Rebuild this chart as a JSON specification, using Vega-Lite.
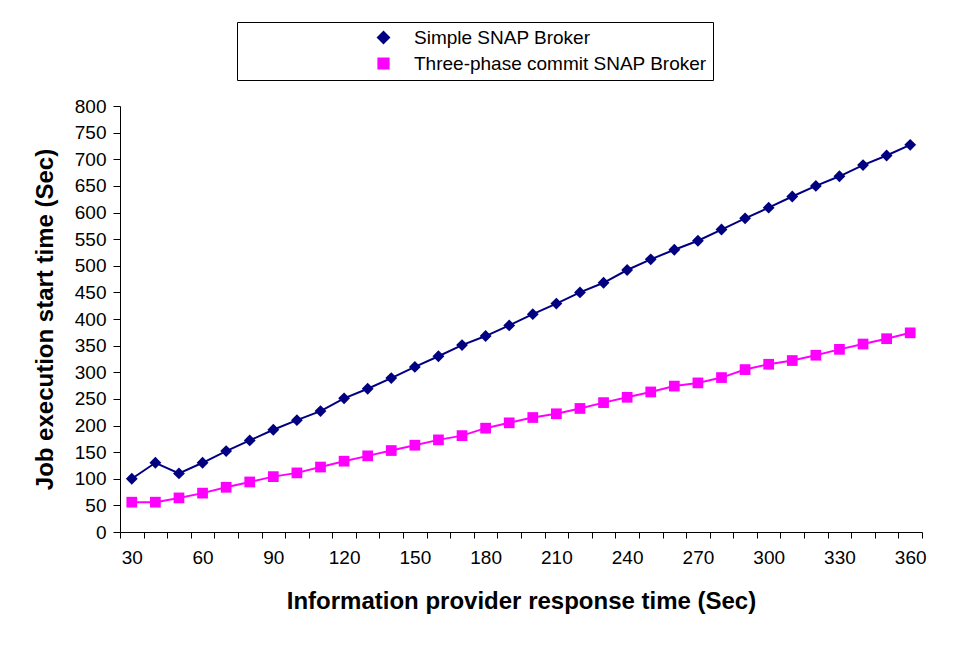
{
  "$schema": "https://vega.github.io/schema/vega-lite/v6.json",
  "width": 802,
  "height": 426,
  "autosize": {"type": "none"},
  "padding": {"left": 120, "top": 106, "right": 42, "bottom": 126},
  "background": "white",
  "config": {
    "font": "Liberation Sans",
    "view": {"stroke": null},
    "axis": {
      "grid": false,
      "domainColor": "#000000",
      "tickColor": "#000000",
      "labelColor": "#000000",
      "titleColor": "#000000",
      "labelFont": "Liberation Sans",
      "titleFont": "Liberation Sans",
      "titleFontWeight": "bold",
      "titleFontSize": 24
    }
  },
  "data": {
    "values": [
      {"t": 30, "series": "Simple SNAP Broker", "v": 100},
      {"t": 40, "series": "Simple SNAP Broker", "v": 130},
      {"t": 50, "series": "Simple SNAP Broker", "v": 110},
      {"t": 60, "series": "Simple SNAP Broker", "v": 130},
      {"t": 70, "series": "Simple SNAP Broker", "v": 152},
      {"t": 80, "series": "Simple SNAP Broker", "v": 172},
      {"t": 90, "series": "Simple SNAP Broker", "v": 192},
      {"t": 100, "series": "Simple SNAP Broker", "v": 210},
      {"t": 110, "series": "Simple SNAP Broker", "v": 227},
      {"t": 120, "series": "Simple SNAP Broker", "v": 251},
      {"t": 130, "series": "Simple SNAP Broker", "v": 269},
      {"t": 140, "series": "Simple SNAP Broker", "v": 289},
      {"t": 150, "series": "Simple SNAP Broker", "v": 310},
      {"t": 160, "series": "Simple SNAP Broker", "v": 330},
      {"t": 170, "series": "Simple SNAP Broker", "v": 351},
      {"t": 180, "series": "Simple SNAP Broker", "v": 368},
      {"t": 190, "series": "Simple SNAP Broker", "v": 388},
      {"t": 200, "series": "Simple SNAP Broker", "v": 409},
      {"t": 210, "series": "Simple SNAP Broker", "v": 429},
      {"t": 220, "series": "Simple SNAP Broker", "v": 450},
      {"t": 230, "series": "Simple SNAP Broker", "v": 468},
      {"t": 240, "series": "Simple SNAP Broker", "v": 492},
      {"t": 250, "series": "Simple SNAP Broker", "v": 512},
      {"t": 260, "series": "Simple SNAP Broker", "v": 530},
      {"t": 270, "series": "Simple SNAP Broker", "v": 547},
      {"t": 280, "series": "Simple SNAP Broker", "v": 568},
      {"t": 290, "series": "Simple SNAP Broker", "v": 589},
      {"t": 300, "series": "Simple SNAP Broker", "v": 609},
      {"t": 310, "series": "Simple SNAP Broker", "v": 630},
      {"t": 320, "series": "Simple SNAP Broker", "v": 650},
      {"t": 330, "series": "Simple SNAP Broker", "v": 668},
      {"t": 340, "series": "Simple SNAP Broker", "v": 689},
      {"t": 350, "series": "Simple SNAP Broker", "v": 707},
      {"t": 360, "series": "Simple SNAP Broker", "v": 727},
      {"t": 30, "series": "Three-phase commit SNAP Broker", "v": 56},
      {"t": 40, "series": "Three-phase commit SNAP Broker", "v": 56},
      {"t": 50, "series": "Three-phase commit SNAP Broker", "v": 64},
      {"t": 60, "series": "Three-phase commit SNAP Broker", "v": 73},
      {"t": 70, "series": "Three-phase commit SNAP Broker", "v": 84},
      {"t": 80, "series": "Three-phase commit SNAP Broker", "v": 94},
      {"t": 90, "series": "Three-phase commit SNAP Broker", "v": 104},
      {"t": 100, "series": "Three-phase commit SNAP Broker", "v": 111},
      {"t": 110, "series": "Three-phase commit SNAP Broker", "v": 122},
      {"t": 120, "series": "Three-phase commit SNAP Broker", "v": 133},
      {"t": 130, "series": "Three-phase commit SNAP Broker", "v": 143},
      {"t": 140, "series": "Three-phase commit SNAP Broker", "v": 153},
      {"t": 150, "series": "Three-phase commit SNAP Broker", "v": 163},
      {"t": 160, "series": "Three-phase commit SNAP Broker", "v": 173},
      {"t": 170, "series": "Three-phase commit SNAP Broker", "v": 181},
      {"t": 180, "series": "Three-phase commit SNAP Broker", "v": 195},
      {"t": 190, "series": "Three-phase commit SNAP Broker", "v": 205},
      {"t": 200, "series": "Three-phase commit SNAP Broker", "v": 215},
      {"t": 210, "series": "Three-phase commit SNAP Broker", "v": 222},
      {"t": 220, "series": "Three-phase commit SNAP Broker", "v": 232},
      {"t": 230, "series": "Three-phase commit SNAP Broker", "v": 243},
      {"t": 240, "series": "Three-phase commit SNAP Broker", "v": 253},
      {"t": 250, "series": "Three-phase commit SNAP Broker", "v": 263},
      {"t": 260, "series": "Three-phase commit SNAP Broker", "v": 274},
      {"t": 270, "series": "Three-phase commit SNAP Broker", "v": 280},
      {"t": 280, "series": "Three-phase commit SNAP Broker", "v": 290},
      {"t": 290, "series": "Three-phase commit SNAP Broker", "v": 305},
      {"t": 300, "series": "Three-phase commit SNAP Broker", "v": 315},
      {"t": 310, "series": "Three-phase commit SNAP Broker", "v": 322},
      {"t": 320, "series": "Three-phase commit SNAP Broker", "v": 332},
      {"t": 330, "series": "Three-phase commit SNAP Broker", "v": 343},
      {"t": 340, "series": "Three-phase commit SNAP Broker", "v": 353},
      {"t": 350, "series": "Three-phase commit SNAP Broker", "v": 363},
      {"t": 360, "series": "Three-phase commit SNAP Broker", "v": 374}
    ]
  },
  "encoding": {
    "x": {
      "field": "t",
      "type": "ordinal",
      "scale": {"type": "band", "paddingInner": 0, "paddingOuter": 0},
      "axis": {
        "title": "Information provider response time (Sec)",
        "labelAngle": 0,
        "labelFontSize": 19,
        "labelPadding": 10,
        "tickBand": "extent",
        "tickSize": 6,
        "labelExpr": "datum.value % 30 === 0 ? datum.label : ''",
        "titlePadding": 22
      }
    },
    "y": {
      "field": "v",
      "type": "quantitative",
      "scale": {"domain": [0, 800], "nice": false},
      "axis": {
        "title": "Job execution start time (Sec)",
        "values": [0, 50, 100, 150, 200, 250, 300, 350, 400, 450, 500, 550, 600, 650, 700, 750, 800],
        "labelFontSize": 19,
        "labelPadding": 7,
        "tickSize": 7,
        "titlePadding": 17
      }
    },
    "color": {
      "field": "series",
      "type": "nominal",
      "scale": {
        "domain": ["Simple SNAP Broker", "Three-phase commit SNAP Broker"],
        "range": ["#000080", "#FF00FF"]
      },
      "legend": {
        "title": null,
        "orient": "none",
        "legendX": 117,
        "legendY": -84,
        "direction": "vertical",
        "strokeColor": "#000000",
        "fillColor": "#ffffff",
        "padding": 6,
        "rowPadding": 6,
        "symbolOffset": 131,
        "labelOffset": 21,
        "labelFontSize": 19,
        "labelFont": "Liberation Sans",
        "labelColor": "#000000",
        "labelLimit": 0,
        "labelExpr": "datum.label + '\u00a0\u00a0\u00a0\u00a0\u00a0\u00a0\u00a0\u00a0'"
      }
    }
  },
  "layer": [
    {
      "mark": {"type": "line", "strokeWidth": 2}
    },
    {
      "mark": {"type": "point", "filled": true, "opacity": 1, "strokeWidth": 0},
      "encoding": {
        "shape": {
          "field": "series",
          "type": "nominal",
          "scale": {
            "domain": ["Simple SNAP Broker", "Three-phase commit SNAP Broker"],
            "range": ["diamond", "square"]
          },
          "legend": null
        },
        "size": {
          "field": "series",
          "type": "nominal",
          "scale": {
            "domain": ["Simple SNAP Broker", "Three-phase commit SNAP Broker"],
            "range": [140, 115]
          },
          "legend": null
        }
      }
    }
  ]
}
